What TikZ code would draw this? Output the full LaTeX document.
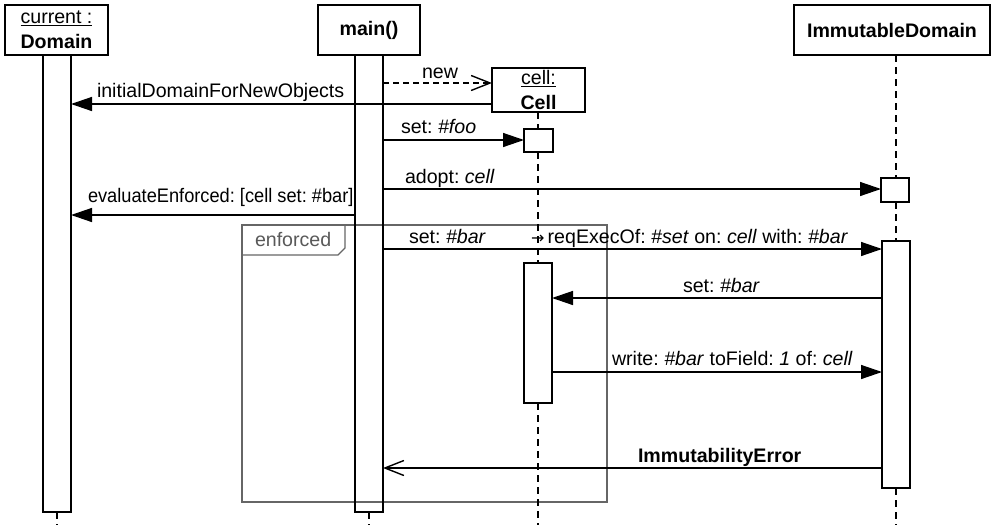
\documentclass[tikz,border=0pt]{standalone}
\usepackage{fontspec}
\setmainfont{Liberation Sans}
\newfontfamily\arrowfont{DejaVu Sans}
\usetikzlibrary{arrows.meta}
\frenchspacing
\begin{document}
\begin{tikzpicture}[x=1pt,y=-1pt,
  every node/.style={font=\fontsize{19.6}{22}\selectfont\frenchspacing, inner sep=0pt, outer sep=0pt},
  headbox/.style={draw, line width=1.4pt, fill=white, align=center},
  actbar/.style={draw, line width=1.4pt},
  lifeline/.style={line width=1.4pt, dash pattern=on 7pt off 5pt},
  msg/.style={line width=1.4pt, -{Triangle[length=21pt,width=14pt]}},
  replymsg/.style={line width=1.4pt, -{Straight Barb[length=19pt,width=15pt,line width=1.4pt]}},
  createmsg/.style={replymsg, dash pattern=on 6pt off 4pt},
  lbl/.style={anchor=base west},
  framecol/.style={draw=black!60, line width=1.1pt},
]
\useasboundingbox (0,0) rectangle (991,525);

% frame
\node[framecol, minimum width=365pt, minimum height=277pt, anchor=north west] (frame) at (242,225) {};
\draw[framecol] (242,255) -- (338,255) -- (345,248) -- (345,225);
\node[lbl, text=black!65] (frameLbl) at (255,246) {enforced};

% heads
\node[headbox, minimum width=103pt, minimum height=50pt] (domHead) at (56.5,30) {\underline{current :}\\[3pt]\textbf{Domain}};
\node[headbox, minimum width=102pt, minimum height=50pt] (mainHead) at (369,30) {\textbf{main()}};
\node[headbox, minimum width=93pt, minimum height=44pt] (cellHead) at (538.5,90) {\underline{cell:}\\[3pt]\textbf{Cell}};
\node[headbox, minimum width=196pt, minimum height=50pt] (immHead) at (892,30) {\textbf{ImmutableDomain}};

% activation bars
\node[actbar, minimum width=28pt, minimum height=457pt] (domAct) at (57,283.5) {};
\node[actbar, minimum width=28pt, minimum height=457pt] (mainAct) at (369,283.5) {};
\node[actbar, minimum width=29pt, minimum height=23pt] (cellAct1) at (538.5,140.5) {};
\node[actbar, minimum width=28pt, minimum height=140pt] (cellAct2) at (538,333) {};
\node[actbar, minimum width=28pt, minimum height=24pt] (immAct1) at (895,190) {};
\node[actbar, minimum width=28pt, minimum height=247pt] (immAct2) at (896,364.5) {};

% lifeline ends
\coordinate (domEnd) at (57,525);
\coordinate (mainEnd) at (369,525);
\coordinate (cellEnd) at (538,525);
\coordinate (immEnd) at (896,525);

\draw[lifeline] (domAct.south) -- (domEnd);
\draw[lifeline] (mainAct.south) -- (mainEnd);
\draw[lifeline] (cellHead.south -| cellAct2) -- (cellAct1.north -| cellAct2);
\draw[lifeline] (cellAct1.south -| cellAct2) -- (cellAct2.north);
\draw[lifeline] (cellAct2.south) -- (cellEnd);
\draw[lifeline] (immHead.south -| immAct2) -- (immAct1.north -| immAct2);
\draw[lifeline] (immAct1.south -| immAct2) -- (immAct2.north);
\draw[lifeline] (immAct2.south) -- (immEnd);

% messages
\draw[createmsg] (mainAct.east |- 0,83) -- (cellHead.west |- 0,83);
\node[lbl] (newLbl) at (422,78) {new};

\draw[msg] (cellHead.west |- 0,104) -- (domAct.east |- 0,104);
\node[lbl] (initLbl) at (97,97) {initialDomainForNewObjects};

\draw[msg] (mainAct.east |- 0,140) -- (cellAct1.west |- 0,140);
\node[lbl] (fooLbl) at (401,133) {set: \textit{\#foo}};

\draw[msg] (mainAct.east |- 0,189) -- (immAct1.west |- 0,189);
\node[lbl] (adoptLbl) at (405,183) {adopt: \textit{cell}};

\draw[msg] (mainAct.west |- 0,215) -- (domAct.east |- 0,215);
\node[lbl] (evalLbl) at (88,202) {\scalebox{0.93}[1]{evaluateEnforced: [cell set: \#bar]}};

\draw[msg] (mainAct.east |- 0,249) -- (immAct2.west |- 0,249);
\node[lbl] (setBarLbl) at (409,243) {set: \textit{\#bar}};
\node[lbl] (reqLbl) at (531,243) {{\arrowfont\fontsize{16}{17}\selectfont →}\,reqExecOf: \textit{\#set} on: \textit{cell} with: \textit{\#bar}};

\draw[msg] (immAct2.west |- 0,298) -- (cellAct2.east |- 0,298);
\node[lbl] (setBar2Lbl) at (683,292) {set: \textit{\#bar}};

\draw[msg] (cellAct2.east |- 0,372) -- (immAct2.west |- 0,372);
\node[lbl] (writeLbl) at (612,365) {write: \textit{\#bar} toField: \textit{1} of: \textit{cell}};

\draw[replymsg] (immAct2.west |- 0,468) -- (mainAct.east |- 0,468);
\node[lbl] (errLbl) at (638,462) {\textbf{ImmutabilityError}};
\end{tikzpicture}
\end{document}
